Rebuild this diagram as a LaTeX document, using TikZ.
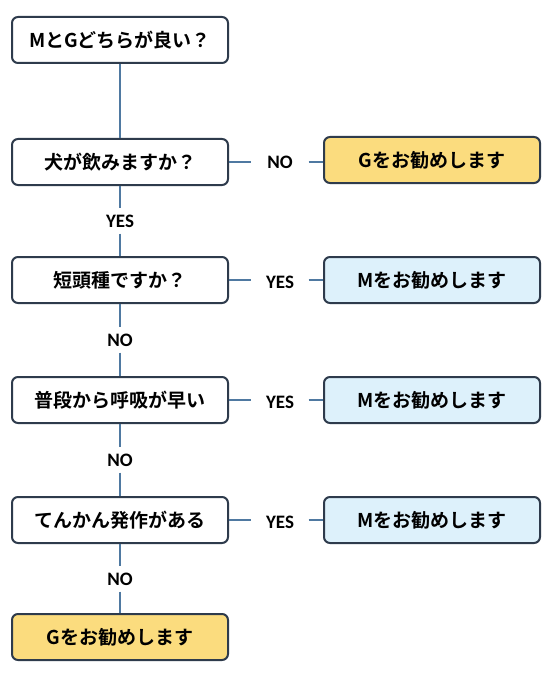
\documentclass[tikz,border=0pt]{standalone}
\usepackage{fontspec}
\newfontfamily\jp{Noto Sans CJK JP}[BoldFont={Noto Sans CJK JP Bold}]
\newfontfamily\lab{Carlito}
\definecolor{boxline}{HTML}{2E3B4C}
\definecolor{conn}{HTML}{4F79A1}
\definecolor{gfill}{HTML}{FBDC7E}
\definecolor{mfill}{HTML}{DDF1FB}
\begin{document}
\begin{tikzpicture}[x=1pt,y=-1pt,
  qbox/.style={draw=boxline,line width=2pt,rounded corners=6pt,fill=white,
    minimum width=216pt,minimum height=46pt,inner sep=0pt,
    font=\jp\bfseries\fontsize{19}{21}\selectfont},
  gbox/.style={qbox,fill=gfill},
  mbox/.style={qbox,fill=mfill},
  lbl/.style={inner sep=0pt,minimum width=57pt,minimum height=25pt,
    font=\lab\bfseries\fontsize{19}{20}\selectfont,text=black},
  conline/.style={draw=conn,line width=2.2pt}]
\useasboundingbox[fill=white] (0,0) rectangle (550,679);
% left column
\node[qbox] (q1) at (120,40) {MとGどちらが良い？};
\node[qbox] (q2) at (120,162) {犬が飲みますか？};
\node[qbox] (q3) at (120,280) {短頭種ですか？};
\node[qbox] (q4) at (120,400) {普段から呼吸が早い};
\node[qbox] (q5) at (120,520) {てんかん発作がある};
\node[gbox] (q6) at (120,637) {Gをお勧めします};
% right column
\node[gbox] (r2) at (432,160) {Gをお勧めします};
\node[mbox] (r3) at (432,280) {Mをお勧めします};
\node[mbox] (r4) at (432,400) {Mをお勧めします};
\node[mbox] (r5) at (432,520) {Mをお勧めします};
% vertical labels
\node[lbl] (v2) at (120,221) {YES};
\node[lbl] (v3) at (120,340) {NO};
\node[lbl] (v4) at (120,460) {NO};
\node[lbl] (v5) at (120,579) {NO};
% horizontal labels
\node[lbl] (h2) at (280,162) {NO};
\node[lbl] (h3) at (280,282) {YES};
\node[lbl] (h4) at (280,402) {YES};
\node[lbl] (h5) at (280,522) {YES};
% connectors
\draw[conline] (q1.south) -- (q2.north);
\draw[conline] (q2.south) -- (v2.north);
\draw[conline] (v2.south) -- (q3.north);
\draw[conline] (q3.south) -- (v3.north);
\draw[conline] (v3.south) -- (q4.north);
\draw[conline] (q4.south) -- (v4.north);
\draw[conline] (v4.south) -- (q5.north);
\draw[conline] (q5.south) -- (v5.north);
\draw[conline] (v5.south) -- (q6.north);
\draw[conline] (q2.east) -- (h2.west);
\draw[conline] (h2.east) -- (r2.west |- h2.east);
\draw[conline] (q3.east) -- (h3.west |- q3.east);
\draw[conline] (h3.east |- r3.west) -- (r3.west);
\draw[conline] (q4.east) -- (h4.west |- q4.east);
\draw[conline] (h4.east |- r4.west) -- (r4.west);
\draw[conline] (q5.east) -- (h5.west |- q5.east);
\draw[conline] (h5.east |- r5.west) -- (r5.west);
\end{tikzpicture}
\end{document}
